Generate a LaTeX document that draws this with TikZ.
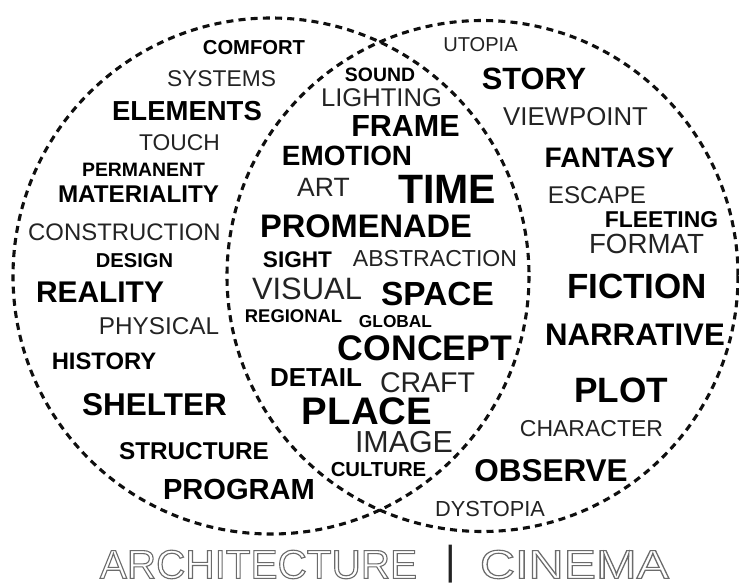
\documentclass[tikz,border=0pt]{standalone}
\usepackage{fontspec}
\setmainfont{Liberation Sans}
\usepackage{graphicx}
\usepackage{tikz}
\definecolor{wordgray}{RGB}{35,35,35}
\definecolor{ringblack}{RGB}{15,15,15}
\newcommand{\hollowtext}[1]{\special{pdf:literal direct 1 Tr 1.1 w 0.42 G}#1\special{pdf:literal direct 0 Tr}}

\begin{document}
\begin{tikzpicture}[
        x=1pt, y=-1pt,
        vennring/.style={draw=ringblack, line width=3.1pt, dash pattern=on 7pt off 5.2pt},
        bw/.style={font=\bfseries\fontsize{#1}{#1}\selectfont, text=black, inner sep=0pt},
        rw/.style={font=\fontsize{#1}{#1}\selectfont, text=wordgray, inner sep=0pt},
        bannerword/.style={font=\fontsize{40.5}{40.5}\selectfont, inner sep=0pt}
    ]
        \useasboundingbox[fill=white] (0,0) rectangle (739,583);
        \coordinate (arch) at (271,276);
        \coordinate (cine) at (482.5,276);
        \draw[vennring] (arch) circle[radius=258];
        \draw[vennring] (cine) circle[radius=255.5];

        % architecture
        \node[bw=20.2] (comfort) at (254,47.5) {COMFORT};
        \node[rw=22.8] (systems) at (221.5,79) {SYSTEMS};
        \node[bw=27.5] (elements) at (187,111.5) {ELEMENTS};
        \node[rw=22.8] (touch) at (179.5,143) {TOUCH};
        \node[bw=19.4] (permanent) at (143.5,170) {PERMANENT};
        \node[bw=24.2] (materiality) at (138.5,194) {MATERIALITY};
        \node[rw=23.9] (construction) at (124.5,232) {CONSTRUCTION};
        \node[bw=20.1] (design) at (134.5,261) {DESIGN};
        \node[bw=29.9] (reality) at (100,292.5) {REALITY};
        \node[rw=24.3] (physical) at (159,326) {PHYSICAL};
        \node[bw=23.8] (history) at (104,361) {HISTORY};
        \node[bw=31.5] (shelter) at (154.5,404.5) {SHELTER};
        \node[bw=24.3] (structure) at (194,451.5) {STRUCTURE};
        \node[bw=29.1] (program) at (239,489.5) {PROGRAM};

        % both
        \node[bw=19.4] (sound) at (380,75) {SOUND};
        \node[rw=25.6] (lighting) at (381.5,97.5) {LIGHTING};
        \node[bw=30.5] (frame) at (405.5,126.5) {FRAME};
        \node[bw=27.9] (emotion) at (347,156) {EMOTION};
        \node[rw=26.5] (art) at (323.5,187.5) {ART};
        \node[bw=41] (time) at (447,189.5) {TIME};
        \node[bw=32.6] (promenade) at (366,226) {PROMENADE};
        \node[bw=22.6] (sight) at (297.5,260) {SIGHT};
        \node[rw=23.1] (abstraction) at (435,258.5) {ABSTRACTION};
        \node[rw=30.9] (visual) at (307,289) {VISUAL};
        \node[bw=33.4] (space) at (437.5,294) {SPACE};
        \node[bw=18.4] (regional) at (293.5,316.5) {REGIONAL};
        \node[bw=17.3] (global) at (395.5,322) {GLOBAL};
        \node[bw=35.6] (concept) at (425,348.5) {CONCEPT};
        \node[bw=26] (detail) at (316,377.5) {DETAIL};
        \node[rw=28.5] (craft) at (427.5,383) {CRAFT};
        \node[bw=38.4] (place) at (367,411.5) {PLACE};
        \node[rw=30.4] (image) at (404,442.5) {IMAGE};
        \node[bw=20.3] (culture) at (378.5,469.5) {CULTURE};

        % cinema
        \node[rw=20.1] (utopia) at (480.5,44.5) {UTOPIA};
        \node[bw=30.8] (story) at (534,79) {STORY};
        \node[rw=25.8] (viewpoint) at (575.5,116.5) {VIEWPOINT};
        \node[bw=28.2] (fantasy) at (609.5,158) {FANTASY};
        \node[rw=24.2] (escape) at (597,195.5) {ESCAPE};
        \node[bw=22.9] (fleeting) at (661.5,220) {FLEETING};
        \node[rw=27.7] (format) at (646.5,243.5) {FORMAT};
        \node[bw=35] (fiction) at (637,286) {FICTION};
        \node[bw=31.2] (narrative) at (635,335) {NARRATIVE};
        \node[bw=35.2] (plot) at (621,390.5) {PLOT};
        \node[rw=23] (character) at (591.5,429) {CHARACTER};
        \node[bw=31.5] (observe) at (551,471) {OBSERVE};
        \node[rw=21.8] (dystopia) at (490,509) {DYSTOPIA};

        \node[bannerword, text=wordgray] (bar) at (451,564) {|};
        \node[bannerword] (archtitle) at (258.5,564.5) {\hollowtext{ARCHITECTURE}};
        \node[bannerword] (cinetitle) at (574.5,564.5) {\scalebox{1.2}[1]{\hollowtext{CINEMA}}};
    \end{tikzpicture}
\end{document}
